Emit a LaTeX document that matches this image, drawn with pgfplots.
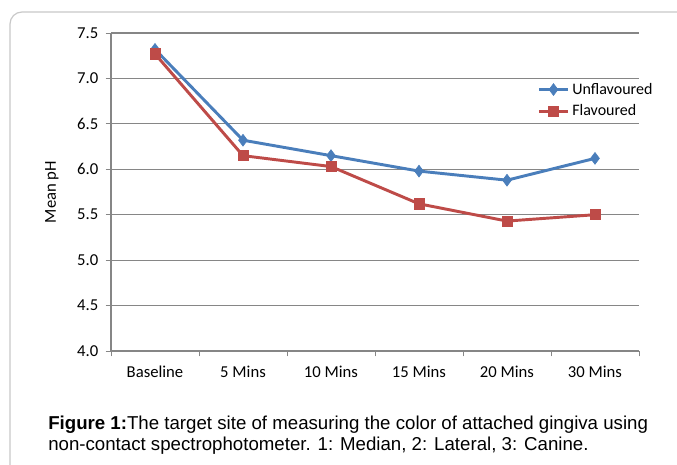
\documentclass[border=0pt]{standalone}
\usepackage{fontspec}
\setmainfont{Liberation Sans}
\newfontfamily\chartfont{Carlito}
\usepackage{pgfplots}
\pgfplotsset{compat=1.18}
\definecolor{ublue}{RGB}{74,126,187}
\definecolor{fred}{RGB}{190,75,72}
\definecolor{gridgray}{RGB}{134,134,134}
\definecolor{framegray}{RGB}{200,200,200}
\begin{document}
\begin{tikzpicture}[x=0.75pt,y=0.75pt]
\useasboundingbox (0,0) rectangle (677,464);
\begin{scope}
\clip (0,0) rectangle (677,464);
\draw[framegray, line width=0.9pt, rounded corners=9pt] (10,-30) rectangle (720,452);
\end{scope}
\begin{axis}[
  at={(83.25pt,84.75pt)}, anchor=south west,
  scale only axis, width=396pt, height=238.5pt,
  xmin=-0.5, xmax=5.5, ymin=4, ymax=7.5,
  axis x line*=bottom, axis y line*=left,
  axis line style={gridgray, line width=0.8pt, -},
  xtick={-0.5,0.5,...,5.5},
  x tick label as interval,
  xticklabels={Baseline,5 Mins,10 Mins,15 Mins,20 Mins,30 Mins},
  ytick={4,4.5,...,7.5},
  /pgf/number format/fixed, /pgf/number format/fixed zerofill, /pgf/number format/precision=1,
  /pgf/number format/assume math mode=true,
  tick label style={font=\chartfont\fontsize{12.5}{15}\selectfont, black},
  tick align=outside, major tick length=4pt,
  tick style={gridgray, line width=0.7pt},
  ymajorgrids, grid style={gridgray, line width=0.8pt},
  ylabel={Mean pH},
  ylabel style={font=\chartfont\fontsize{12.5}{15}\selectfont, at={(axis description cs:-0.112,0.5)}, anchor=center},
  x tick label style={yshift=-4pt},
  y tick label style={xshift=-2pt},
  legend style={at={(0.807,0.852)}, anchor=north west, draw=none, fill=none,
     font=\chartfont\fontsize{12}{14.5}\selectfont, row sep=2.5pt, inner sep=0pt,
     /tikz/every even column/.append style={column sep=0pt}},
  legend cell align=left,
  legend image code/.code={
    \draw[#1, mark repeat=2, mark phase=2] plot coordinates {(0pt,0pt) (11pt,0pt) (22pt,0pt)};
  },
]
\addplot[ublue, line width=2.2pt, mark=diamond*, mark size=4.4pt, mark options={solid, line width=0.5pt}]
  coordinates {(0,7.32) (1,6.32) (2,6.15) (3,5.98) (4,5.88) (5,6.12)};
\addlegendentry{Unflavoured}
\addplot[fred, line width=2.2pt, mark=square*, mark size=3.8pt, mark options={solid, line width=0.5pt}]
  coordinates {(0,7.27) (1,6.15) (2,6.03) (3,5.62) (4,5.43) (5,5.50)};
\addlegendentry{Flavoured}
\end{axis}
\node[anchor=base west, inner sep=0pt, font=\fontsize{14}{17}\selectfont] at (48,35) {\textbf{Figure 1:}The target site of measuring the color of attached gingiva using};
\node[anchor=base west, inner sep=0pt, font=\fontsize{14}{17}\selectfont] at (48,14) {non-contact spectrophotometer. 1: Median, 2: Lateral, 3: Canine.};
\end{tikzpicture}
\end{document}
